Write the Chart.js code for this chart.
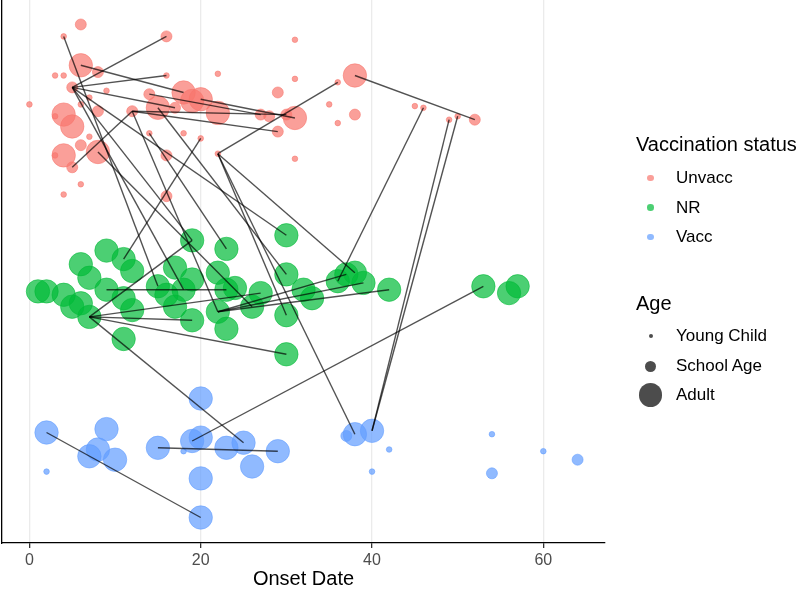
<!DOCTYPE html>
<html><head><meta charset="utf-8">
<script src="https://cdn.jsdelivr.net/npm/chart.js@4/dist/chart.umd.min.js"></script>
<style>
html,body{margin:0;padding:0;background:#fff}
body{width:800px;height:589px;overflow:hidden;position:relative;font-family:"Liberation Sans",Arial,Helvetica,sans-serif}
#c{position:absolute;left:0;top:0}
.t{position:absolute;white-space:nowrap;color:#000}
.ttl{font-size:20px;line-height:24px;height:24px}
.lab{font-size:17px;line-height:20px;height:20px}
.dot{position:absolute;border-radius:50%}
</style></head>
<body>
<canvas id="c" width="800" height="589"></canvas>
<div id="legend"></div>
<script>
// ---- data (onset date, jittered group position, age class) ----
const groups = ["Unvacc", "NR", "Vacc"];
const ageClasses = ["Young Child", "School Age", "Adult"];

const unvaccDate = [6,4,5,4,8,15,18,19,20,22,31,38,
  6,16,8,5,29,8,14,12,17,27,28,30,29,6,5,16,16,38,52,
  4,3,4,16,22,31,31,9,7,0,6,3,14,18,20,7,3,22,31,6,4,36,35,36,45,46,49,50];
const unvaccY = [3.31,3.02,2.95,2.78,2.80,3.06,3.15,3.10,3.11,3.03,3.00,3.25,
  3.55,3.48,3.27,3.18,3.15,3.04,3.14,3.04,3.06,3.02,3.01,3.02,2.92,2.84,2.71,2.78,2.54,3.02,2.99,
  3.48,3.25,3.25,3.25,3.26,3.46,3.23,3.16,3.12,3.08,3.08,3.01,2.91,2.91,2.88,2.89,2.78,2.79,2.76,2.61,2.55,3.21,3.08,2.97,3.07,3.06,2.99,3.01];
const unvaccAge = [
  "Adult","Adult","Adult","Adult","Adult","Adult","Adult","Adult","Adult","Adult","Adult","Adult",
  "School Age","School Age","School Age","School Age","School Age","School Age","School Age","School Age","School Age","School Age",
  "School Age","School Age","School Age","School Age","School Age","School Age","School Age","School Age","School Age",
  "Young Child","Young Child","Young Child","Young Child","Young Child","Young Child","Young Child","Young Child","Young Child","Young Child",
  "Young Child","Young Child","Young Child","Young Child","Young Child","Young Child","Young Child","Young Child","Young Child","Young Child",
  "Young Child","Young Child","Young Child","Young Child","Young Child","Young Child","Young Child","Young Child"];

const nrDate = [1,2,4,5,6,7,6,7,9,11,12,9,11,12,11,19,15,16,17,19,18,17,19,23,22,23,24,22,23,27,26,30,30,30,30,32,33,36,37,38,39,42,53,56,57];
const nrY = [1.98,1.98,1.96,1.89,1.91,1.83,2.14,2.06,2.22,2.17,2.10,1.99,1.94,1.87,1.70,2.28,2.01,1.96,2.12,2.05,1.99,1.89,1.81,2.23,2.09,1.99,2.00,1.86,1.76,1.97,1.89,2.31,2.08,1.84,1.61,1.99,1.94,2.04,2.08,2.09,2.03,1.99,2.01,1.97,2.01];
const nrAge = nrDate.map(() => "Adult");

const vaccDate = [2,9,8,7,10,15,19,20,20,20,20,23,25,26,29,38,40, 37,54,64, 2,18,42,40,54,60];
const vaccY = [1.15,1.17,1.05,1.01,0.99,1.06,1.10,1.12,1.35,0.88,0.65,1.06,1.09,0.95,1.04,1.14,1.16, 1.13,0.91,0.99, 0.92,1.04,1.05,0.92,1.14,1.04];
const vaccAge = ["Adult","Adult","Adult","Adult","Adult","Adult","Adult","Adult","Adult","Adult","Adult","Adult","Adult","Adult","Adult","Adult","Adult",
  "School Age","School Age","School Age",
  "Young Child","Young Child","Young Child","Young Child","Young Child","Young Child"];

// transmission links (infector -> infectee)
const linkFromDate = [5,5,5,6,14,20,12,12,5,22,38, 4,5,5,5,8,14,15,12,20,22,22,46, 22,49,50, 7,7,7,7,9,22,22,22, 7, 19, 2,15];
const linkFromY = [3.18,3.18,3.18,3.31,3.14,3.11,3.04,3.04,2.71,2.79,3.25, 3.48,3.18,3.18,3.18,2.80,2.91,3.06,3.04,2.88,2.79,2.79,3.06, 2.79,2.99,3.01, 1.83,1.83,1.83,1.83,1.99,1.86,1.86,1.86, 1.83, 1.10, 1.15,1.06];
const linkToDate = [16,16,17,18,27,31,30,29,12,36,52, 15,18,19,30,26,23,30,22,11,30,38,36, 38,40,40, 19,19,30,27,23,37,39,42, 25, 53, 20,29];
const linkToY = [3.48,3.25,3.06,3.15,3.02,3.00,3.02,2.92,3.04,3.21,2.99, 2.01,1.99,2.28,2.31,1.89,2.23,2.08,1.86,2.17,1.84,2.09,2.04, 1.14,1.16,1.16, 2.28,1.81,1.61,1.97,1.99,2.08,2.03,1.99, 1.09, 2.01, 0.65,1.04];

const xTicks = [0, 20, 40, 60];

// ---- styles ----
const groupColor = {Unvacc: "rgba(248,118,109,0.7)", NR: "rgba(0,186,56,0.7)", Vacc: "rgba(97,156,255,0.7)"};
const ageRadius = {"Young Child": 2.8, "School Age": 5.5, "Adult": 11.7};

function pointSet(name, dates, ys, ages) {
  return {
    label: name,
    data: dates.map((d, i) => ({x: d, y: ys[i]})),
    pointRadius: ages.map(a => ageRadius[a]),
    pointHoverRadius: ages.map(a => ageRadius[a]),
    backgroundColor: groupColor[name],
    borderColor: groupColor[name],
    pointBorderWidth: 0.8,
    showLine: false,
    clip: false,
    order: 1
  };
}
const datasets = [];
linkFromDate.forEach((d, i) => {
  datasets.push({
    label: "link" + i,
    data: [{x: d, y: linkFromY[i]}, {x: linkToDate[i], y: linkToY[i]}],
    showLine: true, pointRadius: 0, borderColor: "rgba(0,0,0,0.68)", borderWidth: 1.4, order: 0
  });
});
datasets.push(pointSet("Unvacc", unvaccDate, unvaccY, unvaccAge));
datasets.push(pointSet("NR", nrDate, nrY, nrAge));
datasets.push(pointSet("Vacc", vaccDate, vaccY, vaccAge));

new Chart(document.getElementById("c"), {
  type: "scatter",
  data: {datasets},
  options: {
    responsive: false, animation: false, events: [],
    layout: {autoPadding: false, padding: {left: 0, right: 195, top: 0, bottom: 0}},
    plugins: {legend: {display: false}, tooltip: {enabled: false}},
    scales: {
      x: {
        type: "linear", min: -3.2, max: 67.2,
        afterBuildTicks: s => { s.ticks = xTicks.map(v => ({value: v})); },
        afterFit: s => { s.height = 46; },
        grid: {color: "#ebebeb", lineWidth: 1.3, tickLength: 5, tickColor: "#333"},
        border: {display: true, color: "#000", width: 1.3},
        ticks: {color: "#4d4d4d", font: {family: "Liberation Sans", size: 16}, padding: 3, maxRotation: 0},
        title: {display: true, text: "Onset Date", color: "#000", font: {family: "Liberation Sans", size: 20, lineHeight: 1.0}, padding: {top: 0, bottom: 0}}
      },
      y: {
        type: "linear", min: 0.5, max: 3.694,
        afterFit: s => { s.width = 2; },
        grid: {display: false},
        border: {display: true, color: "#000", width: 1.3},
        ticks: {display: false}
      }
    }
  }
});

// ---- legend (HTML text) ----
const lg = document.getElementById("legend");
function addText(cls, txt, x, cy, h) {
  const d = document.createElement("div");
  d.className = "t " + cls; d.textContent = txt;
  d.style.left = x + "px"; d.style.top = (cy - h / 2) + "px";
  lg.appendChild(d);
}
function addDot(cx, cy, r, col) {
  const d = document.createElement("div");
  d.className = "dot";
  d.style.left = (cx - r) + "px"; d.style.top = (cy - r) + "px";
  d.style.width = (2 * r) + "px"; d.style.height = (2 * r) + "px";
  d.style.background = col;
  lg.appendChild(d);
}
addText("ttl", "Vaccination status", 636, 144, 24);
const gY = [178, 207.5, 237];
groups.forEach((g, i) => { addDot(650.7, gY[i], 3.3, groupColor[g]); addText("lab", g, 676, gY[i], 20); });
addText("ttl", "Age", 636, 302.5, 24);
const aY = [336, 366, 395];
ageClasses.forEach((a, i) => { addDot(650.7, aY[i], a === "Young Child" ? 2.2 : ageRadius[a], "rgba(0,0,0,0.7)"); addText("lab", a, 676, aY[i], 20); });
</script>
</body></html>
